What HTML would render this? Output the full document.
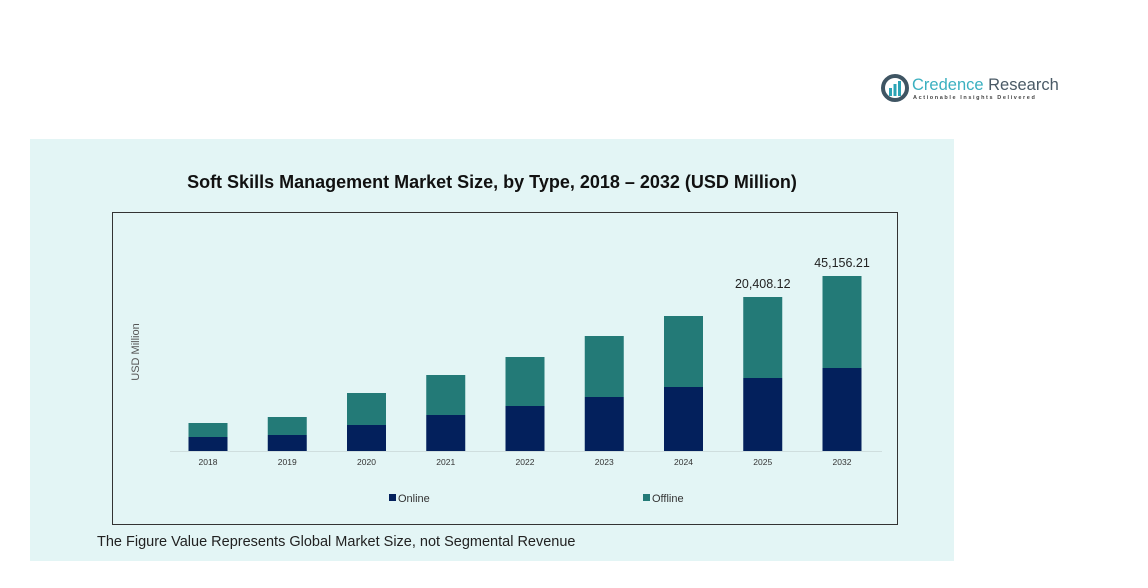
<!DOCTYPE html>
<html><head><meta charset="utf-8"><style>
body{margin:0;width:1148px;height:588px;background:#fff;font-family:"Liberation Sans",sans-serif;position:relative;overflow:hidden}
</style></head><body>
<div style="position:absolute;left:881px;top:74px;width:190px;height:30px">
<svg width="30" height="30" style="position:absolute;left:0;top:0"><circle cx="14" cy="14" r="12" fill="none" stroke="#3f5563" stroke-width="4"/><rect x="8" y="14" width="3" height="8" fill="#2aa3b5"/><rect x="12.5" y="10" width="3" height="12" fill="#2aa3b5"/><rect x="17" y="7" width="3" height="15" fill="#2aa3b5"/></svg>
<div style="position:absolute;left:31px;top:2px;font-size:16.5px;color:#3bb0c0;white-space:nowrap">Credence <span style="color:#4a5a66">Research</span></div>
<div style="position:absolute;left:32px;top:21px;font-size:5.5px;letter-spacing:1.6px;color:#444;font-weight:bold;white-space:nowrap">Actionable Insights Delivered</div>
</div>
<div style="position:absolute;left:30px;top:139px;width:924px;height:422px;background:#e3f5f5"></div>
<div style="position:absolute;left:30px;top:172px;width:924px;text-align:center;font-size:18px;font-weight:bold;color:#111">Soft Skills Management Market Size, by Type, 2018 – 2032 (USD Million)</div>
<div style="position:absolute;left:112px;top:212px;width:784px;height:311px;border:1px solid #333"></div>
<div style="position:absolute;left:97px;top:534px;font-size:14.5px;color:#222">The Figure Value Represents Global Market Size, not Segmental Revenue</div>
<svg id="chart" width="1148" height="588" style="position:absolute;left:0;top:0"></svg>
<script>
const categories=["2018","2019","2020","2021","2022","2023","2024","2025","2032"];
const online=[3612,4128,6708,9288,11610,13932,16512,18834,21414];
const offline=[3612,4644,8256,10320,12642,15738,18318,20898,23736];
const valueLabels=["","","","","","","","20,408.12","45,156.21"];
const NS="http://www.w3.org/2000/svg";
const svg=document.getElementById('chart');
const baseY=451, k=1/258, x0=208, step=79.25, bw=39;
const xs=i=>x0+i*step;
const ys=v=>v*k;
function el(t,a){const e=document.createElementNS(NS,t);for(const n in a)e.setAttribute(n,a[n]);svg.appendChild(e);return e;}
const ax=el('line',{x1:170,x2:882,y1:baseY+0.5,y2:baseY+0.5,stroke:'#cfdede','stroke-width':1});


const yt=el('text',{x:139,y:352,'font-size':11,fill:'#555','text-anchor':'middle',transform:'rotate(-90 139 352)','font-family':'Liberation Sans'});
yt.textContent='USD Million';


categories.forEach((c,i)=>{
const h1=ys(online[i]),h2=ys(offline[i]);
const b1=el('rect',{x:xs(i)-bw/2,y:baseY-h1,width:bw,height:h1,fill:'#03205c'});


const b2=el('rect',{x:xs(i)-bw/2,y:baseY-h1-h2,width:bw,height:h2,fill:'#237a77'});


const t=el('text',{x:xs(i),y:465,'font-size':8.5,fill:'#333','text-anchor':'middle','font-family':'Liberation Sans'});
t.textContent=c;


if(valueLabels[i]){
const v=el('text',{x:xs(i),y:baseY-h1-h2-9,'font-size':12.5,fill:'#222','text-anchor':'middle','font-family':'Liberation Sans'});
v.textContent=valueLabels[i];


}
});
[["Online","#03205c",389],["Offline","#237a77",643]].forEach(([n,col,x])=>{
const r=el('rect',{x:x,y:494,width:7,height:7,fill:col});


const t=el('text',{x:x+9,y:502,'font-size':11,fill:'#333','font-family':'Liberation Sans'});
t.textContent=n;


});
</script>
</body></html>
